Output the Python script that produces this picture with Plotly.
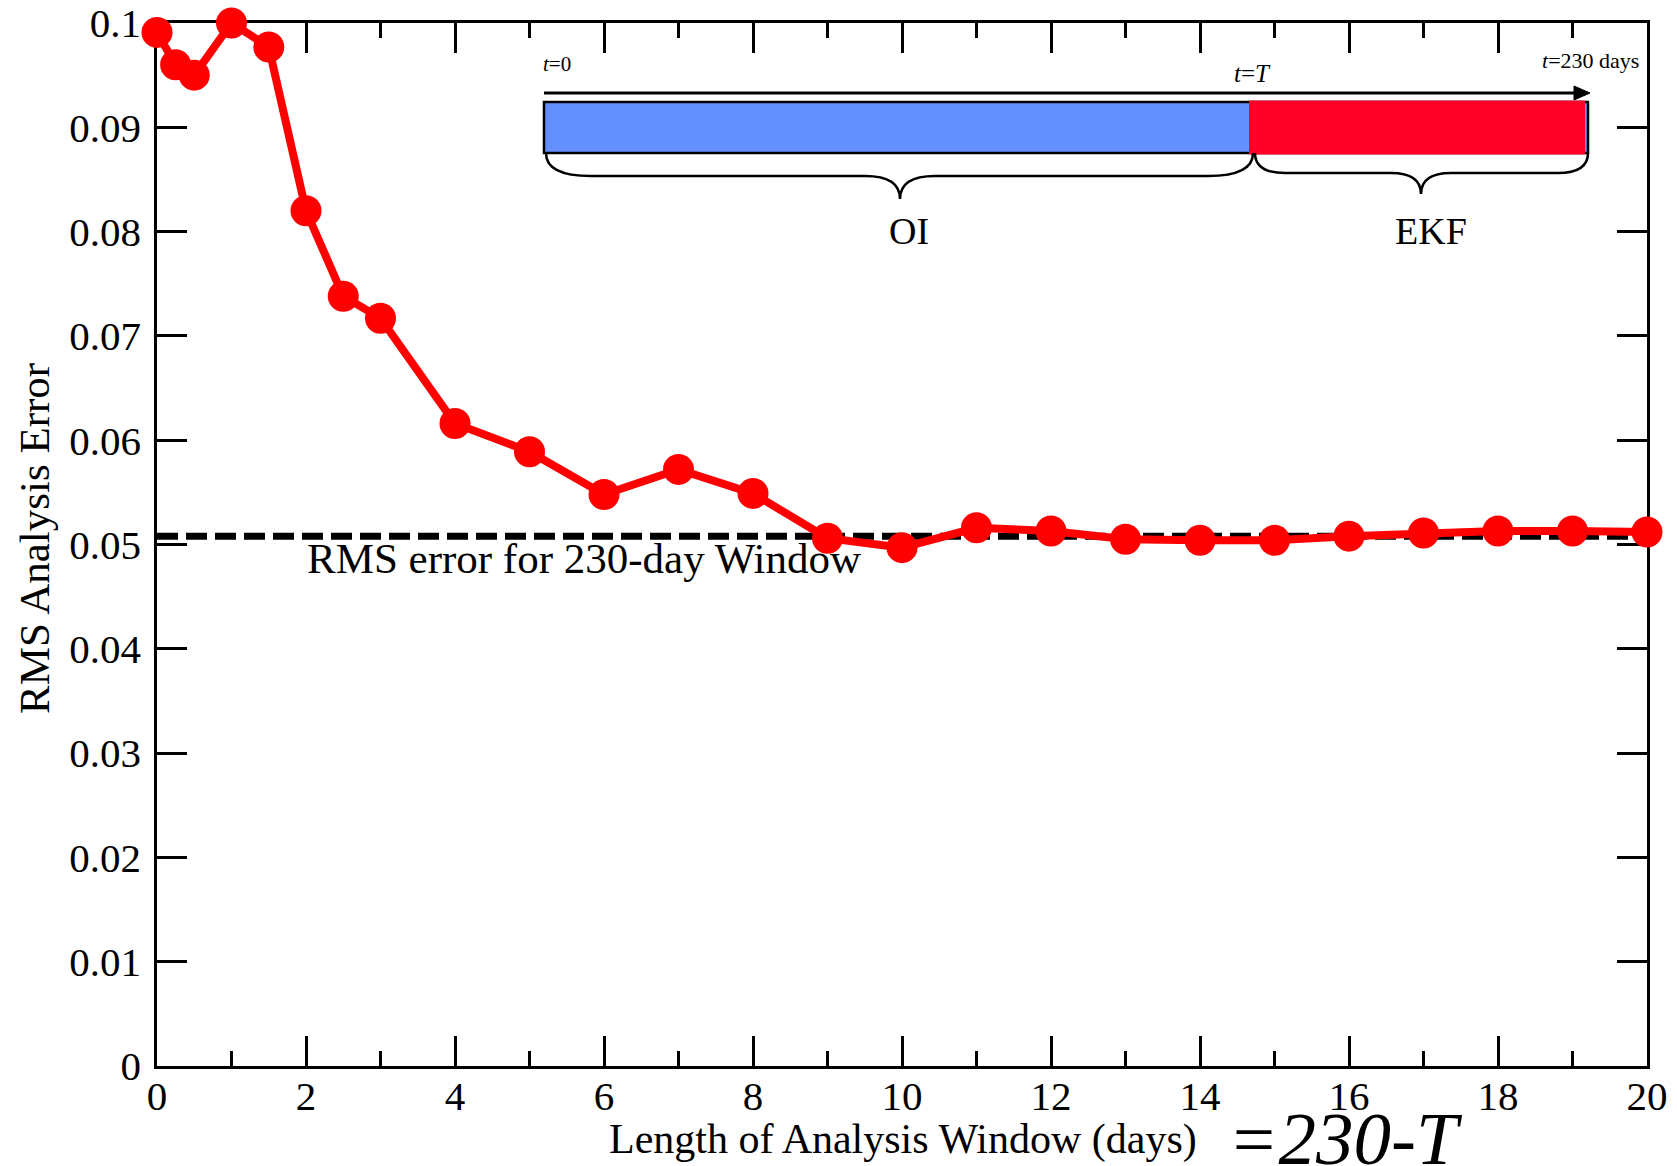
import plotly.graph_objects as go

# ---------------- data ----------------
window_days = [0, 0.25, 0.5, 1, 1.5, 2, 2.5, 3, 4, 5, 6, 7, 8, 9, 10,
               11, 12, 13, 14, 15, 16, 17, 18, 19, 20]
rms_error = [0.0991, 0.0960, 0.0950, 0.1000, 0.0977, 0.0820, 0.0738, 0.0717,
             0.0616, 0.0589, 0.0548, 0.0572, 0.0549, 0.0506, 0.0497,
             0.0516, 0.0513, 0.0505, 0.0504, 0.0504, 0.0508, 0.0511,
             0.0513, 0.0513, 0.0512]
full_window_rms = 0.0508
x_span = [0, 20]

y_tickvals = [0, 0.01, 0.02, 0.03, 0.04, 0.05, 0.06, 0.07, 0.08, 0.09, 0.1]
y_ticktext = ["0", "0.01", "0.02", "0.03", "0.04", "0.05", "0.06", "0.07",
              "0.08", "0.09", "0.1"]
x_tickvals = [0, 2, 4, 6, 8, 10, 12, 14, 16, 18, 20]
x_ticktext = [str(v) for v in x_tickvals]

# ---------------- layout geometry (pixels) ----------------
W, H = 1677, 1166
PL, PR, PT, PB = 157, 1647, 23, 1066
FONT = "Liberation Serif, Times New Roman, serif"


def px(x):
    return (x - PL) / (PR - PL)


def py(y):
    return (PB - y) / (PB - PT)


fig = go.Figure()

fig.add_trace(go.Scatter(
    x=x_span, y=[full_window_rms, full_window_rms], mode="lines",
    line=dict(color="black", width=7, dash="21px,8px"),
    showlegend=False, hoverinfo="skip", cliponaxis=False))

fig.add_trace(go.Scatter(
    x=window_days, y=rms_error, mode="lines+markers",
    line=dict(color="#ff0000", width=8),
    marker=dict(color="#ff0000", size=31),
    showlegend=False, cliponaxis=False))

axis_common = dict(
    showline=True, linecolor="black", linewidth=2.5, mirror="allticks",
    ticks="inside", ticklen=30, tickwidth=2.5, tickcolor="black",
    showgrid=False, zeroline=False, layer="below traces", automargin=False,
    tickfont=dict(family=FONT, size=41, color="black"),
)

fig.update_xaxes(range=[0, 20], tickvals=x_tickvals, ticktext=x_ticktext,
                 minor=dict(dtick=1, tick0=0, ticks="inside", ticklen=15,
                            tickwidth=2.5, tickcolor="black"),
                 ticklabelstandoff=-8,
                 **axis_common)
fig.update_yaxes(range=[0, 0.1], tickvals=y_tickvals, ticktext=y_ticktext,
                 ticklabelstandoff=5,
                 **axis_common)

shapes = []
# timeline arrow
shapes.append(dict(type="line", xref="paper", yref="paper",
                   x0=px(544), y0=py(93), x1=px(1578), y1=py(93),
                   line=dict(color="black", width=3)))
shapes.append(dict(type="path", xref="paper", yref="paper",
                   path=f"M {px(1574)},{py(86)} L {px(1590)},{py(93)} L {px(1574)},{py(100)} Z",
                   fillcolor="black", line=dict(color="black", width=1)))
# OI / EKF bars
shapes.append(dict(type="rect", xref="paper", yref="paper",
                   x0=px(544), y0=py(153), x1=px(1588), y1=py(102),
                   fillcolor="#6490ff", line=dict(color="black", width=2.5)))
shapes.append(dict(type="rect", xref="paper", yref="paper",
                   x0=px(1249), y0=py(154.5), x1=px(1585), y1=py(100.5),
                   fillcolor="#ff0029", line=dict(width=0)))


def brace(x0, x1, xm, ytop, ymid, ytip, r_end, r_tip):
    return (f"M {px(x0)},{py(ytop)} "
            f"Q {px(x0)},{py(ymid)} {px(x0 + r_end)},{py(ymid)} "
            f"L {px(xm - r_tip)},{py(ymid)} "
            f"Q {px(xm)},{py(ymid)} {px(xm)},{py(ytip)} "
            f"Q {px(xm)},{py(ymid)} {px(xm + r_tip)},{py(ymid)} "
            f"L {px(x1 - r_end)},{py(ymid)} "
            f"Q {px(x1)},{py(ymid)} {px(x1)},{py(ytop)}")


shapes.append(dict(type="path", xref="paper", yref="paper",
                   path=brace(546, 1253, 900, 153, 176, 199, 45, 35),
                   line=dict(color="black", width=2.5)))
shapes.append(dict(type="path", xref="paper", yref="paper",
                   path=brace(1255, 1588, 1421, 153, 173, 194, 30, 30),
                   line=dict(color="black", width=2.5)))

annotations = []


def add_text(text, x, y, size, xanchor="center", yanchor="middle", angle=0):
    annotations.append(dict(text=text, xref="paper", yref="paper",
                            x=px(x), y=py(y), xanchor=xanchor, yanchor=yanchor,
                            showarrow=False, textangle=angle,
                            font=dict(family=FONT, size=size, color="black")))


add_text("<i>t</i>=0", 541, 64, 21, xanchor="left")
add_text("<i>t</i>=<i>T</i>", 1252, 74, 25)
add_text("<i>t</i>=230 days", 1540, 61, 22, xanchor="left")
add_text("OI", 909, 231, 38)
add_text("EKF", 1431, 231, 38)
add_text("RMS error for 230-day Window", 305, 558, 43, xanchor="left")
add_text("RMS Analysis Error", 34, 539, 43, angle=-90)
add_text("Length of Analysis Window (days)", 903, 1139, 42)
add_text("<i>=230-T</i>", 1226, 1182, 75, xanchor="left", yanchor="bottom")

fig.update_layout(
    width=W, height=H, autosize=False,
    margin=dict(l=PL, r=W - PR, t=PT, b=H - PB, pad=0, autoexpand=False),
    paper_bgcolor="white", plot_bgcolor="white",
    shapes=shapes, annotations=annotations,
    font=dict(family=FONT, color="black"),
)

fig.write_html("out.html", config={"displayModeBar": False},
               post_script="document.body.style.margin='0px';document.body.style.overflow='hidden';")
